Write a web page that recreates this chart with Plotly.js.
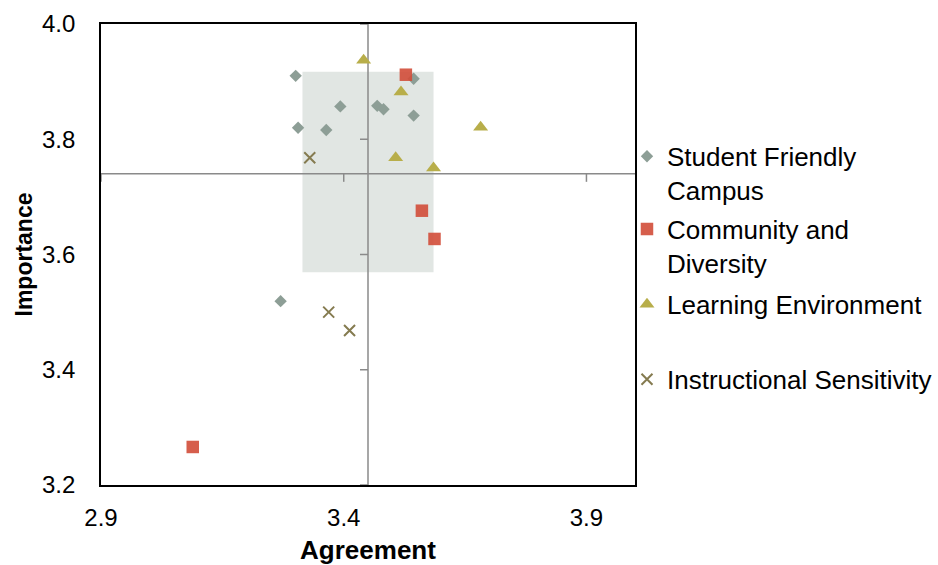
<!DOCTYPE html>
<html><head><meta charset="utf-8">
<script src="https://cdn.plot.ly/plotly-3.0.1.min.js"></script>
<style>html,body{margin:0;padding:0;background:#fff}#chart{width:938px;height:565px}</style>
</head><body><div id="chart"></div>
<script>
// Series (Agreement = x, Importance = y)
const seriesNames = ["Student Friendly<br>Campus", "Community and<br>Diversity", "Learning Environment", "Instructional Sensitivity"];
const sfcX = [3.301, 3.393, 3.306, 3.364, 3.469, 3.482, 3.544, 3.544, 3.270];
const sfcY = [3.910, 3.857, 3.820, 3.816, 3.858, 3.852, 3.905, 3.841, 3.519];
const cdX = [3.528, 3.561, 3.587, 3.089];
const cdY = [3.912, 3.676, 3.627, 3.266];
const leX = [3.441, 3.518, 3.682, 3.507, 3.585];
const leY = [3.937, 3.882, 3.821, 3.768, 3.750];
const isX = [3.330, 3.369, 3.412];
const isY = [3.768, 3.500, 3.468];

const xTicks = [2.9, 3.4, 3.9];
const yTicks = [3.2, 3.4, 3.6, 3.8, 4.0];
const xRange = [2.9, 4.0];
const yRange = [3.2, 4.0];
const crossX = 3.45;   // vertical axis crosses here
const crossY = 3.74;   // horizontal axis crosses here
const boxX = [3.315, 3.585];
const boxY = [3.569, 3.917];

const FONT = "Liberation Sans, Arial, sans-serif";
const AXGREY = "#8a8a8a";

const traces = [
  {x: sfcX, y: sfcY, name: seriesNames[0], legend: "legend",
   marker: {symbol: "diamond", size: 9.5, color: "#8d9e96"}},
  {x: cdX, y: cdY, name: seriesNames[1], legend: "legend2",
   marker: {symbol: "square", size: 12.5, color: "rgba(210,76,56,0.9)"}},
  {x: leX, y: leY, name: seriesNames[2], legend: "legend3",
   marker: {symbol: "triangle-up", size: 13, color: "#b8ae4a"}},
  {x: isX, y: isY, name: seriesNames[3], legend: "legend4",
   marker: {symbol: "x-thin", size: 11, color: "#857b50", line: {color: "#857b50", width: 2}}}
].map(t => Object.assign({type: "scatter", mode: "markers", hoverinfo: "x+y"}, t));

const shapes = [
  {type: "rect", layer: "below", xref: "x", yref: "y", x0: boxX[0], x1: boxX[1], y0: boxY[0], y1: boxY[1],
   fillcolor: "#e1e6e3", line: {width: 0}},
  {type: "line", layer: "below", xref: "x", yref: "y", x0: crossX, x1: crossX, y0: yRange[0], y1: yRange[1],
   line: {color: AXGREY, width: 1.5}},
  {type: "line", layer: "below", xref: "x", yref: "y", x0: xRange[0], x1: xRange[1], y0: crossY, y1: crossY,
   line: {color: AXGREY, width: 1.5}}
];
xTicks.forEach(t => shapes.push({type: "line", layer: "below", xref: "x", yref: "y", ysizemode: "pixel",
  yanchor: crossY, x0: t, x1: t, y0: 0, y1: -8, line: {color: AXGREY, width: 1.5}}));
yTicks.forEach(t => shapes.push({type: "line", layer: "below", xref: "x", yref: "y", xsizemode: "pixel",
  xanchor: crossX, x0: -8, x1: 0, y0: t, y1: t, line: {color: AXGREY, width: 1.5}}));

function leg(y) {
  return {x: 0.985, y: y, xanchor: "left", yanchor: "top", valign: "top",
          bgcolor: "rgba(0,0,0,0)", font: {family: FONT, size: 26, color: "#000"}};
}

const layout = {
  width: 938, height: 565,
  margin: {l: 101, r: 303, t: 24, b: 80, autoexpand: false},
  paper_bgcolor: "#fff", plot_bgcolor: "#fff",
  font: {family: FONT, color: "#000"},
  xaxis: {range: xRange, tickvals: xTicks, ticktext: xTicks.map(v => v.toFixed(1)),
          showgrid: false, zeroline: false, showline: true, mirror: true, linecolor: "#000", linewidth: 1.8,
          ticks: "", ticklabelstandoff: 10, tickfont: {size: 24, family: FONT},
          title: {text: "<b>Agreement</b>", font: {size: 26, family: FONT}, standoff: 15}, automargin: false},
  yaxis: {range: yRange, tickvals: yTicks, ticktext: yTicks.map(v => v.toFixed(1)),
          showgrid: false, zeroline: false, showline: true, mirror: true, linecolor: "#000", linewidth: 1.8,
          ticks: "", ticklabelstandoff: 19, tickfont: {size: 24, family: FONT},
          title: {text: "<b>Importance</b>", font: {size: 23, family: FONT}, standoff: 3}, automargin: false},
  shapes: shapes,
  showlegend: true,
  legend: leg(0.764),
  legend2: leg(0.606),
  legend3: leg(0.443),
  legend4: leg(0.280)
};

Plotly.newPlot("chart", traces, layout, {displayModeBar: false, staticPlot: true});
</script>
</body></html>
